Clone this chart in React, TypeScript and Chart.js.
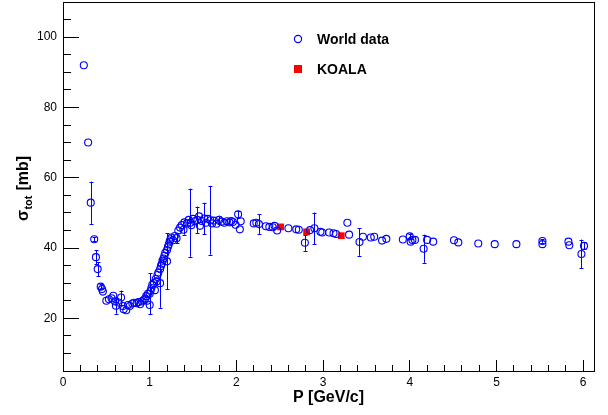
import React, { useEffect, useRef } from "react";
import { Chart, registerables } from "chart.js";

Chart.register(...registerables);

// World data: momentum P [GeV/c], total cross section [mb], error [mb]
const worldP = [
  0.24, 0.29, 0.32, 0.36, 0.38, 0.40, 0.435, 0.45, 0.46, 0.50,
  0.53, 0.56, 0.58, 0.60, 0.61, 0.64, 0.67, 0.69, 0.70, 0.73,
  0.75, 0.77, 0.80, 0.82, 0.85, 0.87, 0.89, 0.91, 0.93, 0.95,
  0.96, 0.97, 0.98, 1.00, 1.00, 1.01, 1.02, 1.03, 1.05, 1.06,
  1.07, 1.08, 1.09, 1.10, 1.12, 1.12, 1.13, 1.14, 1.15, 1.16,
  1.17, 1.18, 1.20, 1.20, 1.21, 1.22, 1.23, 1.24, 1.25, 1.27,
  1.29, 1.31, 1.33, 1.35, 1.37, 1.39, 1.40, 1.43, 1.45, 1.47,
  1.48, 1.50, 1.52, 1.55, 1.57, 1.58, 1.60, 1.63, 1.65, 1.67,
  1.70, 1.72, 1.74, 1.77, 1.80, 1.83, 1.86, 1.89, 1.92, 1.94,
  1.96, 1.99, 2.02, 2.04, 2.05, 2.20, 2.23, 2.26, 2.34, 2.38,
  2.42, 2.44, 2.47, 2.60, 2.69, 2.72, 2.79, 2.85, 2.90, 2.97,
  2.99, 3.07, 3.12, 3.15, 3.28, 3.30, 3.42, 3.46, 3.55, 3.59,
  3.68, 3.73, 3.92, 4.00, 4.01, 4.03, 4.06, 4.16, 4.20, 4.27,
  4.51, 4.56, 4.79, 4.98, 5.23, 5.53, 5.53, 5.83, 5.84, 5.98,
  6.01,
];
const worldSigma = [
  92.0, 70.0, 52.9, 42.5, 37.4, 34.0, 29.0, 28.3, 27.6, 25.0,
  25.4, 25.7, 26.4, 24.8, 23.6, 24.5, 25.9, 23.5, 22.6, 22.3,
  23.8, 23.5, 24.2, 24.4, 24.3, 24.6, 24.0, 24.8, 25.2, 25.6,
  26.3, 25.0, 27.0, 23.8, 27.0, 27.8, 28.6, 29.5, 30.0, 28.0,
  31.2, 30.5, 32.3, 33.0, 30.0, 34.0, 34.9, 35.5, 36.4, 37.0,
  37.8, 38.6, 36.2, 39.4, 40.3, 41.0, 41.8, 42.5, 43.0, 42.2,
  43.4, 42.8, 45.0, 45.8, 46.5, 45.2, 47.3, 47.0, 48.0, 47.2,
  46.5, 48.3, 47.6, 48.0, 49.0, 46.3, 47.7, 48.4, 47.2, 48.3,
  47.9, 47.0, 47.8, 46.9, 48.0, 47.5, 47.2, 47.6, 47.3, 47.7,
  47.4, 46.6, 49.6, 45.3, 47.6, 47.0, 47.2, 46.8, 46.2, 46.0,
  45.9, 46.3, 45.0, 45.6, 45.3, 45.2, 41.5, 45.1, 45.6, 44.6,
  44.4, 44.4, 44.2, 44.0, 47.2, 43.8, 41.7, 43.2, 43.0, 43.2,
  42.1, 42.6, 42.4, 43.3, 41.8, 42.3, 42.3, 39.8, 42.3, 41.8,
  42.2, 41.6, 41.3, 41.1, 41.1, 42.0, 41.1, 41.8, 40.8, 38.3,
  40.6,
];
const worldErr = [
  0, 0, 6.0, 0.6, 2.0, 2.0, 0.8, 0, 0, 0,
  0, 0, 0, 0, 2.3, 0, 2.0, 0, 0, 0,
  0, 0, 0, 0, 0, 0, 0, 0, 0, 0,
  0, 0, 0, 0, 5.8, 0, 0, 0, 0, 0,
  0, 0, 0, 0, 7.0, 0, 0, 0, 0, 0,
  0, 0, 8.0, 0, 0, 0, 0, 0, 0, 0,
  0, 1.5, 0, 0, 0, 1.4, 0, 0, 0, 9.7,
  0, 0, 0, 3.8, 0, 0, 0, 4.5, 0, 0,
  9.8, 0, 0, 0, 1.2, 0, 0, 0, 0, 0,
  0, 0, 1.0, 0, 0, 0, 0, 2.8, 0, 0,
  0, 0, 0, 0, 0, 0, 2.3, 0, 4.5, 0,
  0, 0, 0, 0, 0, 0, 3.9, 0, 0, 0,
  0, 0, 0, 0.8, 0, 0, 0, 4.0, 0, 0,
  0, 0, 0, 0, 0, 0.5, 0, 0, 0, 4.1,
  1.0,
];

// KOALA measurements
const koalaP = [2.51, 2.81, 3.21];
const koalaSigma = [46.0, 44.6, 43.5];

// Axis ticks
const xMajorTicks = [0, 1, 2, 3, 4, 5, 6];
const xMinorTicks = Array.from({ length: 31 }, (_, k) => Math.round(k * 2) / 10);
const yMajorTicks = [20, 40, 60, 80, 100];
const yMinorTicks = Array.from({ length: 22 }, (_, k) => (k + 1) * 5);
const legendLabels = ["World data", "KOALA"];

const BLUE = "rgb(0,0,255)";
const RED = "rgb(255,0,0)";
const FONT = "'Liberation Sans', Arial, Helvetica, sans-serif";

const errorBarPlugin = {
  id: "errorBars",
  beforeDatasetsDraw(chart: any) {
    const ctx = chart.ctx;
    const xs = chart.scales.x;
    const ys = chart.scales.y;
    ctx.save();
    ctx.strokeStyle = BLUE;
    ctx.lineWidth = 1;
    for (let i = 0; i < worldP.length; i++) {
      const e = worldErr[i];
      if (!e) continue;
      const px = Math.round(xs.getPixelForValue(worldP[i])) + 0.5;
      const y1 = ys.getPixelForValue(worldSigma[i] + e);
      const y2 = ys.getPixelForValue(worldSigma[i] - e);
      ctx.beginPath();
      ctx.moveTo(px, y1);
      ctx.lineTo(px, y2);
      ctx.moveTo(px - 2, Math.round(y1) + 0.5);
      ctx.lineTo(px + 2, Math.round(y1) + 0.5);
      ctx.moveTo(px - 2, Math.round(y2) + 0.5);
      ctx.lineTo(px + 2, Math.round(y2) + 0.5);
      ctx.stroke();
    }
    ctx.restore();
  },
};

const textPlugin = {
  id: "rootText",
  afterDraw(chart: any) {
    const ctx = chart.ctx;
    const a = chart.chartArea;
    ctx.save();
    ctx.fillStyle = "#000";
    ctx.font = `bold 16px ${FONT}`;
    ctx.textAlign = "center";
    ctx.textBaseline = "middle";
    ctx.fillText("P [GeV/c]", (a.left + a.right) / 2, 398);

    ctx.translate(23, 221);
    ctx.rotate(-Math.PI / 2);
    ctx.textAlign = "left";
    ctx.textBaseline = "alphabetic";
    ctx.font = `bold 16px ${FONT}`;
    ctx.fillText("σ", 0, 5);
    let w = ctx.measureText("σ").width;
    ctx.font = `bold 11px ${FONT}`;
    ctx.fillText("tot", w + 0.5, 9);
    w += ctx.measureText("tot").width + 1;
    ctx.font = `bold 16px ${FONT}`;
    ctx.fillText(" [mb]", w, 5);
    ctx.restore();

    ctx.save();
    ctx.lineWidth = 1.2;
    ctx.strokeStyle = BLUE;
    ctx.beginPath();
    ctx.arc(298, 39, 3.6, 0, Math.PI * 2);
    ctx.stroke();
    ctx.fillStyle = RED;
    ctx.fillRect(294, 65, 8, 8);
    ctx.fillStyle = "#000";
    ctx.font = `bold 14px ${FONT}`;
    ctx.textAlign = "left";
    ctx.textBaseline = "middle";
    ctx.fillText(legendLabels[0], 317, 40);
    ctx.fillText(legendLabels[1], 317, 70);
    ctx.restore();
  },
};

const zeroPad = (s: any) => {
  s.paddingTop = 0;
  s.paddingBottom = 0;
  s.paddingLeft = 0;
  s.paddingRight = 0;
};

const inwardGrid = (len: number) => ({
  display: true,
  drawOnChartArea: false,
  drawTicks: true,
  tickLength: -len,
  color: "#000",
  lineWidth: 1,
});

const frameBorder = { display: true, color: "#000", width: 1 };

export default function App() {
  const ref = useRef<HTMLCanvasElement | null>(null);
  useEffect(() => {
    if (!ref.current) return;
    const chart = new Chart(ref.current, {
      type: "scatter",
      data: {
        datasets: [
          {
            label: legendLabels[0],
            data: worldP.map((p, i) => ({ x: p, y: worldSigma[i] })),
            pointStyle: "circle",
            pointRadius: 3.5,
            borderColor: BLUE,
            backgroundColor: "rgba(0,0,0,0)",
            borderWidth: 1.1,
            xAxisID: "x",
            yAxisID: "y",
          },
          {
            label: legendLabels[1],
            data: koalaP.map((p, i) => ({ x: p, y: koalaSigma[i] })),
            pointStyle: "rect",
            pointRadius: 4.8,
            borderColor: RED,
            backgroundColor: RED,
            borderWidth: 0,
            xAxisID: "x",
            yAxisID: "y",
          },
        ],
      },
      options: {
        animation: false,
        responsive: false,
        devicePixelRatio: 1,
        layout: { autoPadding: false, padding: { left: 0, right: 14, top: 2, bottom: 0 } },
        plugins: { legend: { display: false }, tooltip: { enabled: false } },
        scales: {
          x: {
            type: "linear",
            position: "bottom",
            min: 0,
            max: 6.125,
            grid: inwardGrid(11),
            border: frameBorder,
            afterBuildTicks: (s: any) => {
              s.ticks = xMajorTicks.map((v) => ({ value: v }));
            },
            afterFit: (s: any) => {
              s.height = 44;
              zeroPad(s);
            },
            ticks: {
              padding: 15,
              color: "#000",
              font: { family: FONT, size: 12 },
              maxRotation: 0,
              autoSkip: false,
            },
          },
          xMinor: {
            type: "linear",
            position: "bottom",
            weight: -1,
            min: 0,
            max: 6.125,
            grid: inwardGrid(6),
            border: { display: false },
            afterBuildTicks: (s: any) => {
              s.ticks = xMinorTicks.map((v) => ({ value: v }));
            },
            afterFit: (s: any) => {
              s.height = 0;
              zeroPad(s);
            },
            ticks: { display: false, autoSkip: false },
          },
          xTop: {
            type: "linear",
            position: "top",
            min: 0,
            max: 6.125,
            grid: { display: false },
            border: frameBorder,
            afterFit: (s: any) => {
              s.height = 0;
              zeroPad(s);
            },
            ticks: { display: false },
          },
          y: {
            type: "linear",
            position: "left",
            min: 5,
            max: 110,
            grid: inwardGrid(16),
            border: frameBorder,
            afterBuildTicks: (s: any) => {
              s.ticks = yMajorTicks.map((v) => ({ value: v }));
            },
            afterFit: (s: any) => {
              s.width = 63;
              zeroPad(s);
            },
            ticks: {
              padding: 22,
              color: "#000",
              font: { family: FONT, size: 12 },
              autoSkip: false,
            },
          },
          yMinor: {
            type: "linear",
            position: "left",
            weight: -1,
            min: 5,
            max: 110,
            grid: inwardGrid(8),
            border: { display: false },
            afterBuildTicks: (s: any) => {
              s.ticks = yMinorTicks.map((v) => ({ value: v }));
            },
            afterFit: (s: any) => {
              s.width = 0;
              zeroPad(s);
            },
            ticks: { display: false, autoSkip: false },
          },
          yRight: {
            type: "linear",
            position: "right",
            min: 5,
            max: 110,
            grid: { display: false },
            border: frameBorder,
            afterFit: (s: any) => {
              s.width = 0;
              zeroPad(s);
            },
            ticks: { display: false },
          },
        },
      },
      plugins: [errorBarPlugin, textPlugin],
    });
    return () => chart.destroy();
  }, []);
  return (
    <div style={{ position: "fixed", left: 0, top: 0, width: 608, height: 415, background: "#fff" }}>
      <canvas ref={ref} width={608} height={415} />
    </div>
  );
}
